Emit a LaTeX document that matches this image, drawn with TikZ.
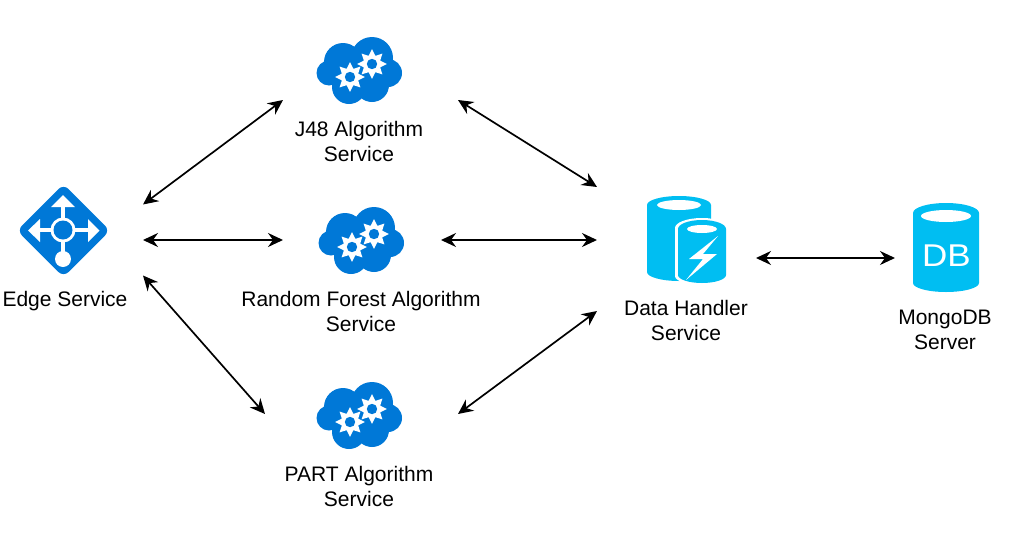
\documentclass[tikz,border=0pt]{standalone}
\usepackage{fontspec}
\setmainfont{Liberation Sans}
\usetikzlibrary{arrows.meta}
\definecolor{azblue}{HTML}{0078D7}
\definecolor{azcyan}{HTML}{00BEF2}
\tikzset{
  x=1pt,y=-1pt,
  anchorbox/.style={inner sep=0pt,outer sep=0pt,minimum width=#1},
  label text/.style={inner sep=0pt,align=center,text=black,font=\fontsize{21}{25}\selectfont},
  link/.style={line width=1.7pt,draw=black,{Stealth[length=15pt,width=14pt,inset=5pt]}-{Stealth[length=15pt,width=14pt,inset=5pt]}},
  pics/gearicon/.style={code={
    \fill[white,line join=miter] plot[samples at={0,22.5,...,337.5}] ({(11.8+3*cos(8*\x))*cos(\x)},{(11.8+3*cos(8*\x))*sin(\x)}) -- cycle;
    \fill[azblue] (0,0) circle[radius=5.2pt];
  }},
  pics/cloudicon/.style={code={
    \fill[azblue] (372,58) circle[radius=21pt] (343,62) circle[radius=19pt] (329,73) circle[radius=12.5pt]
      (388,73) circle[radius=14pt] (349,87) circle[radius=17pt] (372,85) circle[radius=17pt]
      (335,70) rectangle (385,88);
    \pic at (350,77) {gearicon};
    \pic at (372,64) {gearicon};
  }},
}
\begin{document}
\begin{tikzpicture}
\useasboundingbox (0,0) rectangle (1010,536);
% edge icon
\fill[azblue,rounded corners=7pt] (63.5,184) -- (110,230.5) -- (63.5,277) -- (17,230.5) -- cycle;
\draw[white,line width=4.5pt] (63,204) -- (63,259) (37,230) -- (91,230);
\fill[white] (63,195) -- (75,207) -- (51,207) -- cycle
  (99.5,230.5) -- (88,219) -- (88,242) -- cycle
  (28,230.5) -- (40,219) -- (40,242) -- cycle
  (63,230) circle[radius=12.5pt] (63,259) circle[radius=8pt];
\fill[azblue] (63,230) circle[radius=9.5pt];
% clouds
\pic at (0,0) {cloudicon};
\pic at (2,170) {cloudicon};
\pic at (0,345) {cloudicon};
% data handler icon
\fill[azcyan] (647,205) rectangle (711,272) (679,205) ellipse[x radius=32pt,y radius=9pt] (679,272) ellipse[x radius=32pt,y radius=9pt];
\fill[white] (679,205) ellipse[x radius=22pt,y radius=5pt];
\fill[white] (675,228) rectangle (729,276) (702,228) ellipse[x radius=27pt,y radius=10pt] (702,276) ellipse[x radius=27pt,y radius=9pt];
\fill[azcyan] (678,229) rectangle (726,275) (702,229) ellipse[x radius=24pt,y radius=9pt] (702,275) ellipse[x radius=24pt,y radius=8pt];
\fill[white] (702,229) ellipse[x radius=15pt,y radius=4pt];
\fill[white] (718,236) -- (689,259) -- (703,259) -- (686,280) -- (717,254) -- (703,254) -- cycle;
% mongodb icon
\fill[azcyan] (913,213) rectangle (979,283) (946,213) ellipse[x radius=33pt,y radius=10pt] (946,283) ellipse[x radius=33pt,y radius=9pt];
\fill[white] (946,216) ellipse[x radius=25pt,y radius=6pt];
\node[inner sep=0pt,text=white,font=\fontsize{35}{37}\selectfont,yscale=0.9] (dbmark) at (946.5,255.5) {DB};
% anchor boxes
\node[anchorbox=160pt,minimum height=71pt] (edge) at (63,240) {};
\node[anchorbox=175pt,minimum height=10pt] (j48) at (370.5,100) {};
\node[anchorbox=158pt,minimum height=10pt] (forest) at (362,240) {};
\node[anchorbox=193pt,minimum height=10pt] (part) at (361.5,414) {};
\node[anchorbox=159pt,minimum height=124pt] (data) at (676.5,249) {};
\node[anchorbox=60pt,minimum height=10pt] (mongo) at (925,258) {};
% labels
\node[label text] (edgelabel) at (65,301) {Edge Service};
\node[label text] (j48label) at (359,141.5) {J48 Algorithm\\Service};
\node[label text] (forestlabel) at (361,311.5) {Random Forest Algorithm\\Service};
\node[label text] (partlabel) at (359,486.5) {PART Algorithm\\Service};
\node[label text] (datalabel) at (686,320.5) {Data Handler\\Service};
\node[label text] (mongolabel) at (945,329.5) {MongoDB\\Server};
% connectors
\draw[link] (edge.north east) -- (j48.west);
\draw[link] (edge.east) -- (forest.west);
\draw[link] (edge.south east) -- (part.west);
\draw[link] (j48.east) -- (data.north west);
\draw[link] (forest.east) -- (forest.east -| data.west);
\draw[link] (part.east) -- (data.south west);
\draw[link] (data.east |- mongo.west) -- (mongo.west);
\end{tikzpicture}
\end{document}
